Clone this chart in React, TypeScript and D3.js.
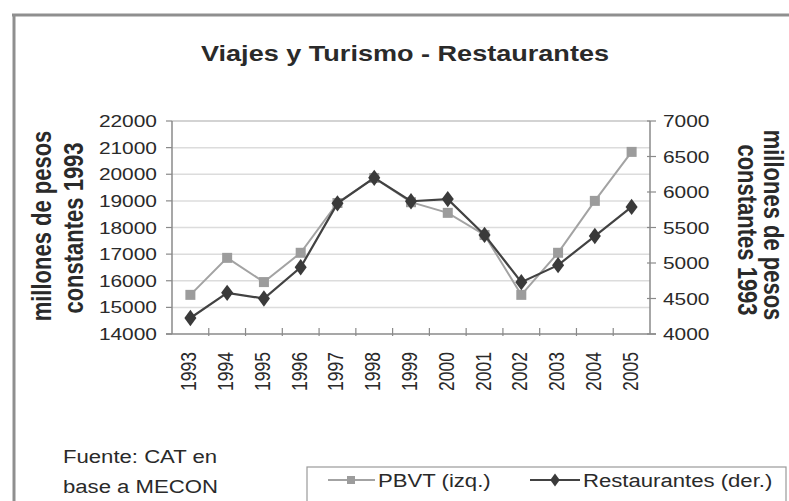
import React, { useRef, useEffect } from "react";
import * as d3 from "d3";

const years = ["1993", "1994", "1995", "1996", "1997", "1998", "1999", "2000", "2001", "2002", "2003", "2004", "2005"];
const pbvt = [15470, 16860, 15950, 17050, 18920, 19860, 18950, 18550, 17720, 15470, 17050, 19000, 20840];
const restaurantes = [4225, 4580, 4500, 4940, 5840, 6200, 5870, 5900, 5395, 4730, 4970, 5380, 5790];
const leftTicks = [14000, 15000, 16000, 17000, 18000, 19000, 20000, 21000, 22000];
const rightTicks = [4000, 4500, 5000, 5500, 6000, 6500, 7000];

const FONT = "'Liberation Sans', Arial, sans-serif";
const SX = 1.23; // the picture is stretched sideways

export default function App() {
    const ref = useRef<SVGSVGElement>(null);

    useEffect(() => {
        const width = 789;
        const height = 501;
        const plot = { left: 172, right: 650, top: 121, bottom: 334 };

        const svg = d3.select(ref.current);
        svg.selectAll("*").remove();
        svg.attr("width", width).attr("height", height);

        const label = (x: number, y: number, txt: string, size: number, anchor: string, rot = 0, bold = false) =>
            svg.append("text")
                .attr("transform", `translate(${x},${y}) scale(${SX},1) rotate(${rot})`)
                .attr("text-anchor", anchor)
                .attr("font-family", FONT)
                .attr("font-size", size)
                .attr("font-weight", bold ? "bold" : "normal")
                .attr("fill", "#2a2a2a")
                .text(txt);

        // frame
        svg.append("line").attr("x1", 12).attr("x2", width).attr("y1", 15).attr("y2", 15)
            .attr("stroke", "#8f8f8f").attr("stroke-width", 3);
        svg.append("line").attr("x1", 14).attr("x2", 14).attr("y1", 14).attr("y2", height)
            .attr("stroke", "#8f8f8f").attr("stroke-width", 3);

        const x = d3.scaleBand().domain(years).range([plot.left, plot.right]).padding(0);
        const cx = (d: string) => (x(d) as number) + x.bandwidth() / 2;
        const yL = d3.scaleLinear().domain([14000, 22000]).range([plot.bottom, plot.top]);
        const yR = d3.scaleLinear().domain([4000, 7000]).range([plot.bottom, plot.top]);

        // gridlines
        svg.append("g").selectAll("line")
            .data(leftTicks.slice(1))
            .enter().append("line")
            .attr("x1", plot.left).attr("x2", plot.right)
            .attr("y1", d => yL(d)).attr("y2", d => yL(d))
            .attr("stroke", d => (d === 22000 ? "#c4c4c4" : "#dcdcdc"))
            .attr("stroke-width", 1.5);

        const axisColor = "#8a8a8a";
        // left axis
        svg.append("line").attr("x1", plot.left).attr("x2", plot.left)
            .attr("y1", plot.top).attr("y2", plot.bottom).attr("stroke", axisColor).attr("stroke-width", 1.5);
        leftTicks.forEach(v => {
            svg.append("line").attr("x1", plot.left - 6).attr("x2", plot.left)
                .attr("y1", yL(v)).attr("y2", yL(v)).attr("stroke", axisColor).attr("stroke-width", 1.2);
            label(157, yL(v) + 6, String(v), 17, "end");
        });
        // right axis
        svg.append("line").attr("x1", plot.right).attr("x2", plot.right)
            .attr("y1", plot.top).attr("y2", plot.bottom).attr("stroke", axisColor).attr("stroke-width", 1.5);
        rightTicks.forEach(v => {
            svg.append("line").attr("x1", plot.right - 3).attr("x2", plot.right + 6)
                .attr("y1", yR(v)).attr("y2", yR(v)).attr("stroke", axisColor).attr("stroke-width", 1.2);
            label(663, yR(v) + 6, String(v), 17, "start");
        });
        // bottom axis
        svg.append("line").attr("x1", plot.left - 6).attr("x2", plot.right + 6)
            .attr("y1", plot.bottom).attr("y2", plot.bottom).attr("stroke", axisColor).attr("stroke-width", 1.5);
        years.forEach((yr, i) => {
            const bx = x(yr) as number;
            if (i > 0) {
                svg.append("line").attr("x1", bx).attr("x2", bx)
                    .attr("y1", plot.bottom - 6).attr("y2", plot.bottom + 2)
                    .attr("stroke", axisColor).attr("stroke-width", 1.2);
            }
            label(cx(yr) + 6, 352, yr, 17.5, "end", -90);
        });

        // series
        const linePB = d3.line<number>().x((_, i) => cx(years[i])).y(d => yL(d));
        const lineR = d3.line<number>().x((_, i) => cx(years[i])).y(d => yR(d));

        svg.append("path").datum(pbvt).attr("d", linePB)
            .attr("fill", "none").attr("stroke", "#a3a3a3").attr("stroke-width", 2);
        svg.append("g").selectAll("rect")
            .data(pbvt).enter().append("rect")
            .attr("x", (_, i) => cx(years[i]) - 5).attr("y", d => yL(d) - 5)
            .attr("width", 10).attr("height", 10)
            .attr("fill", "#9c9c9c");

        svg.append("path").datum(restaurantes).attr("d", lineR)
            .attr("fill", "none").attr("stroke", "#424242").attr("stroke-width", 2.2);
        const diamond = d3.symbol().type(d3.symbolDiamond).size(95);
        svg.append("g").selectAll("path")
            .data(restaurantes).enter().append("path")
            .attr("d", diamond)
            .attr("transform", (d, i) => `translate(${cx(years[i])},${yR(d)}) scale(1.15,0.9)`)
            .attr("fill", "#3a3a3a");

        // titles
        label(405, 61, "Viajes y Turismo - Restaurantes", 22, "middle", 0, true);
        label(51, 226, "millones de pesos", 22, "middle", -90, true);
        label(83, 228, "constantes 1993", 22, "middle", -90, true);
        label(764, 225, "millones de pesos", 22, "middle", 90, true);
        label(738, 230, "constantes 1993", 22, "middle", 90, true);

        // source
        label(63, 463, "Fuente: CAT en", 18, "start");
        label(63, 493, "base a MECON", 18, "start");

        // legend
        svg.append("rect").attr("x", 307).attr("y", 467).attr("width", 479).attr("height", 60)
            .attr("fill", "#fff").attr("stroke", "#9a9a9a").attr("stroke-width", 1.2);
        svg.append("line").attr("x1", 328).attr("x2", 375).attr("y1", 480).attr("y2", 480)
            .attr("stroke", "#a3a3a3").attr("stroke-width", 2);
        svg.append("rect").attr("x", 347).attr("y", 476).attr("width", 8).attr("height", 8).attr("fill", "#9c9c9c");
        label(378, 487, "PBVT (izq.)", 18, "start");
        svg.append("line").attr("x1", 530).attr("x2", 580).attr("y1", 480).attr("y2", 480)
            .attr("stroke", "#424242").attr("stroke-width", 2);
        svg.append("path").attr("d", d3.symbol().type(d3.symbolDiamond).size(60))
            .attr("transform", "translate(555,480) scale(1.15,0.9)").attr("fill", "#3a3a3a");
        label(583, 487, "Restaurantes (der.)", 18, "start");
    }, []);

    return (
        <div style={{ position: "absolute", left: 0, top: 0, background: "#fff" }}>
            <svg ref={ref} style={{ display: "block" }}></svg>
        </div>
    );
}
